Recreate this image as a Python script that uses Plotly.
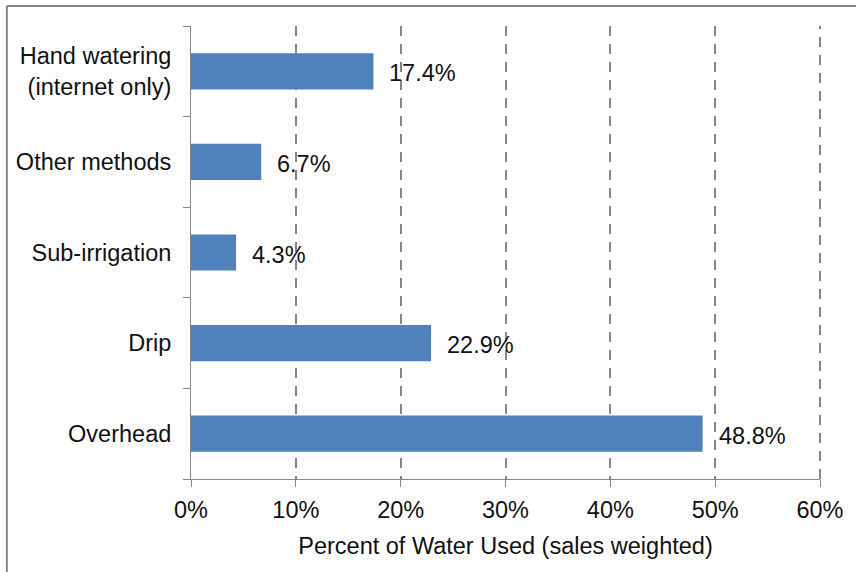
import plotly.graph_objects as go

# Irrigation methods, bottom to top as drawn on the category axis
methods = ["Overhead", "Drip", "Sub-irrigation", "Other methods",
           "Hand watering<br>(internet only)"]
share_pct = [48.8, 22.9, 4.3, 6.7, 17.4]
x_ticks = [0, 10, 20, 30, 40, 50, 60]
x_tick_text = ["0%", "10%", "20%", "30%", "40%", "50%", "60%"]

W, H = 856, 572
L, R, T, B = 191, 33, 26, 93
pw, ph = W - L - R, H - T - B

FONT = "Liberation Sans, Arial, sans-serif"
FS = 23.5
GRAY = "#868686"
BAR = "#4F81BD"
GRID_DASH = "10px,8px"

fig = go.Figure()
fig.add_trace(go.Bar(
    y=methods, x=share_pct, orientation="h",
    marker=dict(color=BAR, line=dict(width=0)),
    width=0.4, hoverinfo="skip",
))

# value labels to the right of each bar
for m, v in zip(methods, share_pct):
    fig.add_annotation(x=v, y=m, text=f"{v:.1f}%", showarrow=False,
                       xanchor="left", yanchor="middle", xshift=14, yshift=-2,
                       font=dict(family=FONT, size=FS, color="#111111"))

# gridline at the right end of the axis (plotly drops grid lines on the edge)
fig.add_shape(type="line", xref="paper", yref="paper",
              x0=1, x1=1, y0=0, y1=1,
              line=dict(color=GRAY, width=2, dash=GRID_DASH))

# chart frame (top and left edges visible)
fx = (6 - L) / pw
fy = (H - B - 6) / ph
fig.add_shape(type="line", xref="paper", yref="paper",
              x0=fx, x1=1.2, y0=fy, y1=fy, line=dict(color=GRAY, width=2))
fig.add_shape(type="line", xref="paper", yref="paper",
              x0=fx, x1=fx, y0=fy, y1=-0.4, line=dict(color=GRAY, width=2))

fig.update_layout(
    width=W, height=H,
    margin=dict(l=L, r=R, t=T, b=B, pad=0),
    paper_bgcolor="white", plot_bgcolor="white",
    showlegend=False,
    font=dict(family=FONT, size=FS, color="#111111"),
    xaxis=dict(
        range=[0, 60], tickvals=x_ticks, ticktext=x_tick_text,
        showgrid=True, gridcolor=GRAY, gridwidth=2, griddash=GRID_DASH,
        zeroline=False, showline=True, linecolor=GRAY, linewidth=1,
        ticks="outside", ticklen=7, tickcolor=GRAY, tickwidth=1,
        ticklabelstandoff=3,
        tickfont=dict(size=FS),
        title=dict(text="Percent of Water Used (sales weighted)",
                   font=dict(size=FS), standoff=15),
        fixedrange=True,
    ),
    yaxis=dict(
        type="category", categoryorder="array", categoryarray=methods,
        range=[-0.5, len(methods) - 0.5],
        showgrid=False, zeroline=False,
        showline=True, linecolor=GRAY, linewidth=1,
        ticks="outside", ticklen=7, tickcolor=GRAY, tickwidth=1,
        tickson="boundaries", ticklabelstandoff=14,
        tickfont=dict(size=FS),
        fixedrange=True,
    ),
)

fig.write_html("out.html", config={"displayModeBar": False})
